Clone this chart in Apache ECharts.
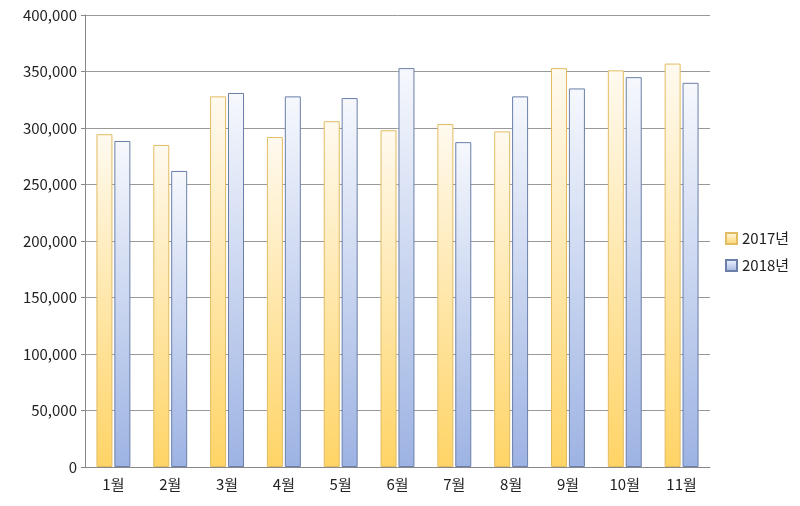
<!DOCTYPE html>
<html>
<head>
<meta charset="utf-8">
<script src="https://cdn.jsdelivr.net/npm/echarts@6/dist/echarts.min.js"></script>
<style>html,body{margin:0;padding:0;background:#fff}#main{width:800px;height:506px}</style>
</head>
<body>
<div id="main"></div>
<script>
// 월별 값
const months = ['1월', '2월', '3월', '4월', '5월', '6월', '7월', '8월', '9월', '10월', '11월'];
const values2017 = [294500, 285000, 328000, 292000, 306000, 298000, 303500, 297000, 353000, 351000, 357000];
const values2018 = [288500, 262000, 331000, 328000, 326500, 353000, 287500, 328000, 335000, 345000, 340000];
const seriesNames = ['2017년', '2018년'];

function grad(top, bottom) {
  return new echarts.graphic.LinearGradient(0, 0, 0, 1, [
    { offset: 0, color: top },
    { offset: 1, color: bottom }
  ]);
}

const chart = echarts.init(document.getElementById('main'));
const font = 'Noto Sans CJK KR';
chart.setOption({
  animation: false,
  textStyle: { fontFamily: font },
  grid: { left: 85, right: 90, top: 15, bottom: 39 },
  legend: {
    orient: 'vertical',
    left: 720,
    top: 226,
    icon: 'rect',
    itemWidth: 11,
    itemHeight: 11,
    itemGap: 12,
    textStyle: { fontSize: 15, color: '#222', fontFamily: font },
    data: seriesNames
  },
  xAxis: {
    type: 'category',
    data: months,
    axisLine: { lineStyle: { color: '#888' } },
    axisTick: { show: false },
    axisLabel: { fontSize: 15, color: '#222', margin: 10 }
  },
  yAxis: {
    type: 'value',
    min: 0,
    max: 400000,
    interval: 50000,
    axisLine: { show: true, lineStyle: { color: '#888' } },
    axisTick: { show: true, length: 4, lineStyle: { color: '#888' } },
    axisLabel: {
      fontSize: 15,
      color: '#222',
      formatter: v => v.toLocaleString('en-US')
    },
    splitLine: { lineStyle: { color: '#999' } }
  },
  series: [
    {
      name: seriesNames[0],
      type: 'bar',
      data: values2017,
      barWidth: 16,
      barGap: '12%',
      itemStyle: {
        color: grad('#fffaf0', '#ffd466'),
        borderColor: '#e2bc62',
        borderWidth: 1
      }
    },
    {
      name: seriesNames[1],
      type: 'bar',
      data: values2018,
      barWidth: 16,
      itemStyle: {
        color: grad('#f6f8fd', '#9db3e3'),
        borderColor: '#6b7fa8',
        borderWidth: 1
      }
    }
  ]
});
</script>
</body>
</html>
